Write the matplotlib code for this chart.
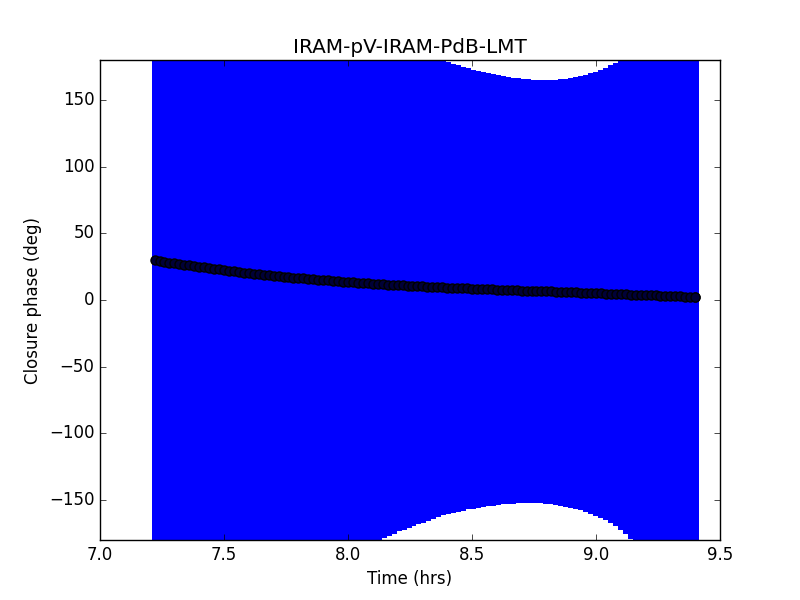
import matplotlib
matplotlib.use("Agg")
import matplotlib.pyplot as plt

plt.style.use("classic")

title = "IRAM-pV-IRAM-PdB-LMT"

time_hrs = [
    7.22, 7.24, 7.26, 7.28, 7.30, 7.32, 7.34, 7.36, 7.38, 7.40,
    7.42, 7.44, 7.46, 7.48, 7.50, 7.52, 7.54, 7.56, 7.58, 7.60,
    7.62, 7.64, 7.66, 7.68, 7.70, 7.72, 7.74, 7.76, 7.78, 7.80,
    7.82, 7.84, 7.86, 7.88, 7.90, 7.92, 7.94, 7.96, 7.98, 8.00,
    8.02, 8.04, 8.06, 8.08, 8.10, 8.12, 8.14, 8.16, 8.18, 8.20,
    8.22, 8.24, 8.26, 8.28, 8.30, 8.32, 8.34, 8.36, 8.38, 8.40,
    8.42, 8.44, 8.46, 8.48, 8.50, 8.52, 8.54, 8.56, 8.58, 8.60,
    8.62, 8.64, 8.66, 8.68, 8.70, 8.72, 8.74, 8.76, 8.78, 8.80,
    8.82, 8.84, 8.86, 8.88, 8.90, 8.92, 8.94, 8.96, 8.98, 9.00,
    9.02, 9.04, 9.06, 9.08, 9.10, 9.12, 9.14, 9.16, 9.18, 9.20,
    9.22, 9.24, 9.26, 9.28, 9.30, 9.32, 9.34, 9.36, 9.38, 9.40,
]

closure_phase = [
    30.0, 29.4, 28.8, 28.1, 27.5, 27.0, 26.5, 26.0, 25.5, 25.0,
    24.5, 24.0, 23.5, 23.0, 22.5, 22.0, 21.5, 21.0, 20.5, 20.0,
    19.6, 19.2, 18.8, 18.4, 18.0, 17.7, 17.4, 17.1, 16.8, 16.5,
    16.2, 15.9, 15.6, 15.3, 15.0, 14.7, 14.4, 14.1, 13.8, 13.5,
    13.3, 13.0, 12.8, 12.5, 12.3, 12.1, 11.9, 11.6, 11.4, 11.2,
    11.0, 10.8, 10.6, 10.4, 10.2, 10.0, 9.8, 9.6, 9.5, 9.3,
    9.1, 9.0, 8.8, 8.7, 8.5, 8.4, 8.2, 8.1, 7.9, 7.8,
    7.7, 7.5, 7.4, 7.2, 7.1, 7.0, 6.8, 6.7, 6.6, 6.5,
    6.4, 6.2, 6.1, 5.9, 5.8, 5.7, 5.5, 5.4, 5.2, 5.1,
    5.0, 4.8, 4.7, 4.5, 4.4, 4.3, 4.1, 4.0, 3.8, 3.7,
    3.6, 3.4, 3.3, 3.1, 3.0, 2.9, 2.7, 2.6, 2.4, 2.3,
]

phase_error = [
    320, 316, 312, 309, 305, 302, 298, 295, 292, 289,
    286, 283, 280, 277, 274, 271, 268, 265, 262, 259,
    256, 253, 250, 247, 245, 242, 239, 237, 234, 232,
    229, 226, 224, 221, 218, 216, 213, 210, 208, 205,
    202.5, 200, 198, 196, 194, 192, 190, 188, 186, 184,
    182.5, 181, 179.5, 178, 176.5, 175, 173, 171.5, 170, 169,
    168, 167, 166, 165, 164.2, 163.4, 162.7, 162, 161.3, 160.7,
    160.2, 159.7, 159.3, 159, 158.7, 158.4, 158.2, 158.1, 158.2, 158.4,
    158.7, 159.1, 159.6, 160.2, 160.9, 161.7, 162.6, 163.6, 164.7, 166,
    167.5, 169.2, 171.2, 173.5, 176, 179, 182.5, 186, 190, 194,
    199, 204.5, 210, 216, 222, 228, 234, 240, 246, 252,
]

fig = plt.figure(figsize=(8, 6), dpi=100, facecolor="white")
ax = fig.add_subplot(111)
fig.subplots_adjust(left=0.125, right=0.9, bottom=0.1, top=0.9)

cont = ax.errorbar(time_hrs, closure_phase, yerr=phase_error, fmt="o",
                   color="blue", ecolor="blue", elinewidth=3.8, capsize=0,
                   mfc="#000038", mec="black", mew=1.0, ms=6.5)
for coll in cont[2]:
    coll.set_antialiased(False)

# last point is drawn on top, showing the blue face
ax.plot(time_hrs[-1:], closure_phase[-1:], "o", mfc="blue", mec="black",
        mew=1.0, ms=6.5)

ax.set_xlim(7.0, 9.5)
ax.set_ylim(-180, 180)
ax.set_xticks([7.0, 7.5, 8.0, 8.5, 9.0, 9.5])
ax.set_yticks([-150, -100, -50, 0, 50, 100, 150])
ax.set_title(title)
ax.set_xlabel("Time (hrs)")
ax.set_ylabel("Closure phase (deg)")

fig.savefig("out.png", dpi=100, facecolor="white")
